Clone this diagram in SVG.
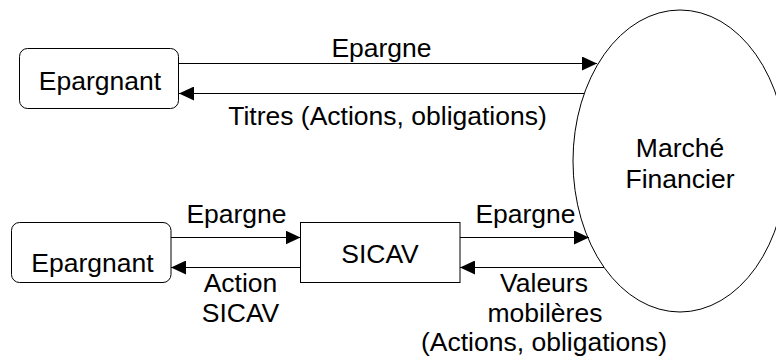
<svg xmlns="http://www.w3.org/2000/svg" width="776" height="363" viewBox="0 0 776 363">
<style>
  .box{fill:#fff;stroke:#000;stroke-width:1}
  .ln{fill:none;stroke:#000;stroke-width:1.2}
  text{font-family:"Liberation Sans",Arial,sans-serif;font-size:26.5px;fill:#000;text-anchor:middle}
</style>
<defs>
  <marker id="ah" markerUnits="userSpaceOnUse" markerWidth="15" markerHeight="14" viewBox="0 0 15 14" refX="15" refY="7" orient="auto">
    <path d="M0,0 L15,7 L0,14 Z" fill="#000"/>
  </marker>
</defs>
<rect width="776" height="363" fill="#fff"/>
<g id="marche">
  <ellipse cx="680" cy="161" rx="107" ry="151" class="box"/>
  <text x="680" y="157">Marché</text>
  <text x="680" y="188">Financier</text>
</g>
<g id="epargnant1">
  <rect x="19.5" y="48.5" width="159" height="60" rx="8" class="box"/>
  <text x="100" y="90">Epargnant</text>
</g>
<g id="epargnant2">
  <rect x="11.5" y="222.5" width="159.5" height="60" rx="8" class="box"/>
  <text x="92.5" y="271.5">Epargnant</text>
</g>
<g id="sicav">
  <rect x="300.5" y="222.5" width="159.5" height="60" class="box"/>
  <text x="380" y="262.5">SICAV</text>
</g>
<g id="connectors">
  <line x1="179" y1="63.5" x2="597" y2="63.5" class="ln" marker-end="url(#ah)"/>
  <line x1="584" y1="93.5" x2="179" y2="93.5" class="ln" marker-end="url(#ah)"/>
  <line x1="171" y1="237.5" x2="300.5" y2="237.5" class="ln" marker-end="url(#ah)"/>
  <line x1="300.5" y1="267.5" x2="171" y2="267.5" class="ln" marker-end="url(#ah)"/>
  <line x1="460" y1="237.5" x2="589" y2="237.5" class="ln" marker-end="url(#ah)"/>
  <line x1="604" y1="267.5" x2="460" y2="267.5" class="ln" marker-end="url(#ah)"/>
  <text x="381.5" y="56.5">Epargne</text>
  <text x="387.5" y="124.5">Titres (Actions, obligations)</text>
  <text x="236.5" y="223">Epargne</text>
  <text x="240.5" y="291.5">Action</text>
  <text x="240.5" y="321.5">SICAV</text>
  <text x="525.5" y="223">Epargne</text>
  <text x="544" y="292">Valeurs</text>
  <text x="545" y="321.5">mobilères</text>
  <text x="544" y="351">(Actions, obligations)</text>
</g>
</svg>
